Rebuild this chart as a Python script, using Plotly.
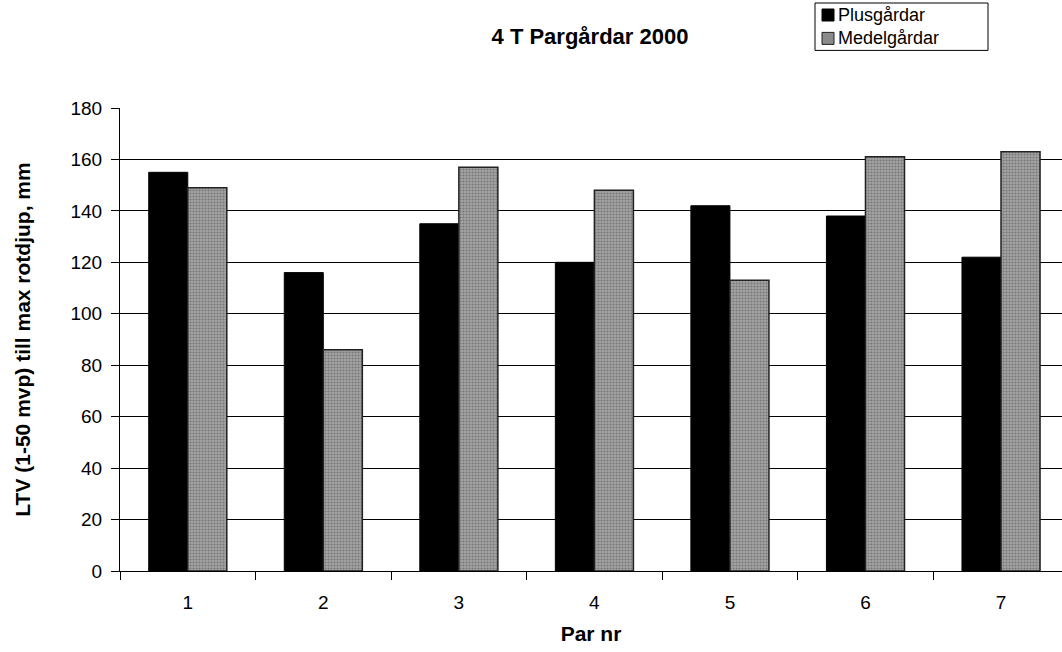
import plotly.graph_objects as go

categories = ["1", "2", "3", "4", "5", "6", "7"]
plus_values = [155, 116, 135, 120, 142, 138, 122]
medel_values = [149, 86, 157, 148, 113, 161, 163]
series_names = ["Plusgårdar", "Medelgårdar"]
y_ticks = [0, 20, 40, 60, 80, 100, 120, 140, 160, 180]

FONT = "Liberation Sans, Arial, sans-serif"
PLUS_COLOR = "#000000"
MEDEL_COLOR = "#9c9c9c"
MEDEL_PATTERN = dict(shape=".", fgcolor="#4a4a4a", bgcolor="#a4a4a4", size=3, solidity=0.4)

fig = go.Figure()
fig.add_trace(go.Bar(
    x=categories, y=plus_values, name=series_names[0],
    marker=dict(color=PLUS_COLOR, line=dict(color="#000000", width=1)),
    showlegend=False,
))
fig.add_trace(go.Bar(
    x=categories, y=medel_values, name=series_names[1],
    marker=dict(color=MEDEL_COLOR, line=dict(color="#222222", width=1.5),
                pattern=MEDEL_PATTERN),
    showlegend=False,
))

# plot area in pixels: x 120..1062, y 108..571
L, R, T, B = 120, 1062, 108, 571
def px(xp):
    return (xp - L) / (R - L)
def py(yp):
    return (B - yp) / (B - T)

LEG_FONT = 18
line_h = LEG_FONT * 1.3
row1 = 15
row2 = row1 + line_h

shapes = [
    # legend box
    dict(type="rect", xref="paper", yref="paper",
         x0=px(815), x1=px(988), y0=py(row2 + 12), y1=py(row1 - 12),
         line=dict(color="#000000", width=1), fillcolor="white", layer="above"),
    # legend keys
    dict(type="rect", xref="paper", yref="paper",
         x0=px(822), x1=px(834), y0=py(row1 + 6), y1=py(row1 - 6),
         line=dict(color="#000000", width=1), fillcolor=PLUS_COLOR, layer="above"),
    dict(type="rect", xref="paper", yref="paper",
         x0=px(822), x1=px(834), y0=py(row2 + 6), y1=py(row2 - 6),
         line=dict(color="#222222", width=1), fillcolor="#8a8a8a", layer="above"),
]
annotations = [
    dict(text=series_names[0] + "<br>" + series_names[1], xref="paper", yref="paper",
         x=px(837), y=py((row1 + row2) / 2), align="left",
         xanchor="left", yanchor="middle", showarrow=False, borderpad=0,
         font=dict(size=LEG_FONT, family=FONT, color="#000000")),
]

fig.update_layout(
    width=1062, height=652,
    margin=dict(l=L, r=1062 - R, t=T, b=652 - B),
    paper_bgcolor="white", plot_bgcolor="white",
    barmode="group", bargap=0.424, bargroupgap=0,
    font=dict(family=FONT, size=19, color="#000000"),
    title=dict(text="<b>4 T Pargårdar 2000</b>", x=590 / 1062, xanchor="center",
               y=1 - 36 / 652, yanchor="middle", font=dict(size=22, family=FONT)),
    showlegend=False,
    shapes=shapes,
    annotations=annotations,
)
fig.update_xaxes(
    type="category", range=[-0.5, 6.45],
    showline=True, linecolor="#000000", linewidth=1,
    ticks="outside", ticklen=8, tickcolor="#000000",
    tickson="boundaries", showgrid=False,
    ticklabelstandoff=14,
    title=dict(text="<b>Par nr</b>", font=dict(size=21, family=FONT), standoff=14),
    tickfont=dict(size=19, family=FONT),
)
fig.update_yaxes(
    range=[0, 180], tickvals=y_ticks,
    showline=True, linecolor="#000000", linewidth=1,
    ticks="outside", ticklen=8, tickcolor="#000000",
    showgrid=True, gridcolor="#000000", gridwidth=1,
    zeroline=False,
    ticklabelstandoff=5,
    title=dict(text="<b>LTV (1-50 mvp) till max rotdjup, mm</b>",
               font=dict(size=21, family=FONT), standoff=34),
    tickfont=dict(size=19, family=FONT),
)

fig.write_html("out.html")
